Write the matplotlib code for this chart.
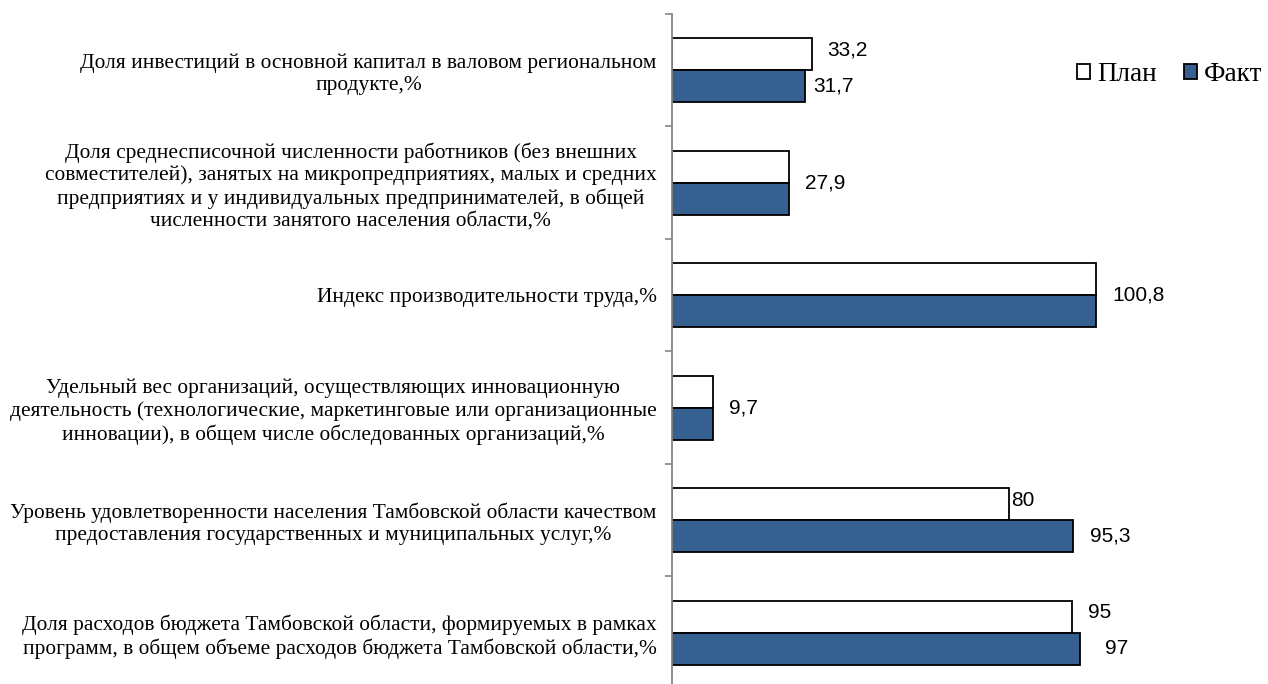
import numpy as np
import matplotlib.pyplot as plt

categories = [
    "Доля инвестиций в основной капитал в валовом региональном\nпродукте,%",
    "Доля среднесписочной численности работников (без внешних\n"
    "совместителей), занятых на микропредприятиях, малых и средних\n"
    "предприятиях и у индивидуальных предпринимателей, в общей\n"
    "численности занятого населения области,%",
    "Индекс производительности труда,%",
    "Удельный вес организаций, осуществляющих инновационную\n"
    "деятельность (технологические, маркетинговые или организационные\n"
    "инновации), в общем числе обследованных организаций,%",
    "Уровень удовлетворенности населения Тамбовской области качеством\n"
    "предоставления государственных и муниципальных услуг,%",
    "Доля расходов бюджета Тамбовской области, формируемых в рамках\n"
    "программ, в общем объеме расходов бюджета Тамбовской области,%",
]
plan = [33.2, 27.9, 100.8, 9.7, 80, 95]
fact = [31.7, 27.9, 100.8, 9.7, 95.3, 97]

# label x-offsets in pixels (manually placed in the original)
plan_dx = [16, 16, 16, 16, 3, 16]
fact_dx = [8, 16, 16, 16, 17, 25]

plan_color = "white"
fact_color = "#36608F"

fig = plt.figure(figsize=(12.68, 6.84), dpi=100)
ax = fig.add_axes([0.530, -0.0073, 0.4645, 0.987])

y = np.arange(len(categories))
h = 0.285
ax.barh(y - h / 2, plan, height=h, color=plan_color, edgecolor="black", linewidth=1.3, label="План")
ax.barh(y + h / 2, fact, height=h, color=fact_color, edgecolor="black", linewidth=1.3, label="Факт")

ax.set_xlim(0, 140)
ax.set_ylim(len(categories) - 0.5, -0.5)

vfont = dict(family="Liberation Sans", fontsize=15, va="center", ha="left", color="black")
fmt = lambda v: f"{v:g}".replace(".", ",")
for i in range(len(categories)):
    if plan[i] == fact[i]:
        ax.annotate(fmt(plan[i]), (plan[i], y[i]), xytext=(plan_dx[i] * 0.72, 0),
                    textcoords="offset points", **vfont)
    else:
        ax.annotate(fmt(plan[i]), (plan[i], y[i] - h / 2), xytext=(plan_dx[i] * 0.72, 3),
                    textcoords="offset points", **vfont)
        ax.annotate(fmt(fact[i]), (fact[i], y[i] + h / 2), xytext=(fact_dx[i] * 0.72, 0),
                    textcoords="offset points", **vfont)

ax.set_yticks(y)
ax.set_yticklabels(categories, family="Liberation Serif", fontsize=15.4,
                   multialignment="center", linespacing=1.2)
ax.tick_params(axis="y", which="major", length=0, pad=11)
ax.set_yticks(np.arange(len(categories) + 1) - 0.5, minor=True)
ax.tick_params(axis="y", which="minor", length=5, color="#868686", width=1.2)
ax.set_xticks([])

for s in ["top", "right", "bottom"]:
    ax.spines[s].set_visible(False)
ax.spines["left"].set_color("#868686")
ax.spines["left"].set_linewidth(1.3)

leg = fig.legend(loc="center right", bbox_to_anchor=(1.015, 0.891), ncol=2, frameon=False,
                 prop={"family": "Liberation Serif", "size": 19.5},
                 handlelength=0.5, handleheight=0.5, handletextpad=0.25, columnspacing=1.0)

fig.savefig("out.png", dpi=100)
